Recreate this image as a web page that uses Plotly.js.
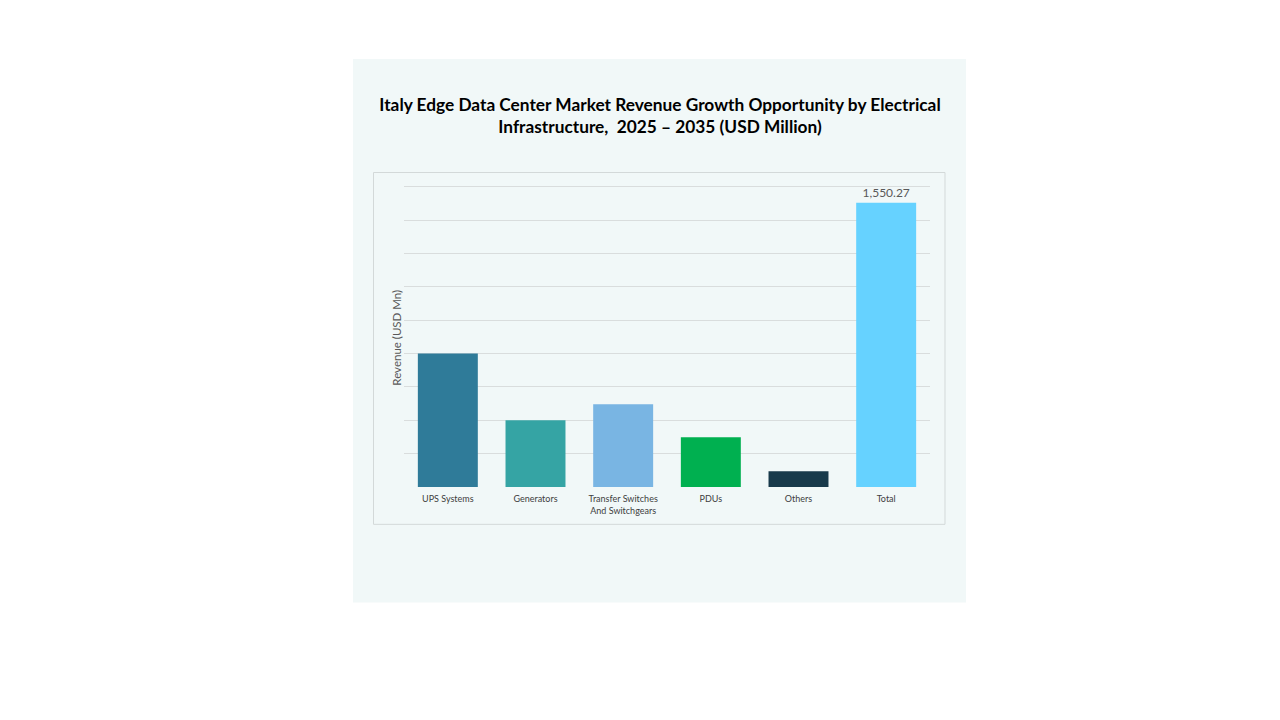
<!DOCTYPE html>
<html>
<head>
<meta charset="utf-8">
<script src="https://cdn.plot.ly/plotly-3.0.1.min.js"></script>
<style>
html,body{margin:0;padding:0;background:#ffffff;}
#chart{width:1280px;height:720px;}
</style>
</head>
<body>
<div id="chart"></div>
<script>
// ---- data ----
var categories = ["UPS Systems", "Generators", "Transfer Switches<br>And Switchgears", "PDUs", "Others", "Total"];
var revenue = [728, 364, 451, 271, 86, 1550.27];
var barColors = ["#2F7B99", "#35A4A4", "#79B5E3", "#00B050", "#183A4B", "#66D2FF"];
var labels = ["", "", "", "", "", "1,550.27"];
var chartTitle = "Italy Edge Data Center Market Revenue Growth Opportunity by Electrical<br>Infrastructure,  2025 \u2013 2035 (USD Million)";
var yTitle = "Revenue (USD Mn)";

// ---- layout geometry (pixels) ----
var W = 1280, H = 720;
var plotL = 404, plotR = 930, plotT = 180, plotB = 486.7;
var gridTop = 186.7, totalTop = 202.7;
var k = 1550.27 / (plotB - totalTop);          // value per pixel
var nGrid = 9;
var gridStep = k * (plotB - gridTop) / nGrid;
var rangeTop = k * (plotB - plotT);
var tickVals = [];
for (var i = 0; i <= nGrid; i++) tickVals.push(gridStep * i);

function px(x) { return (x - plotL) / (plotR - plotL); }
function py(y) { return (plotB - y) / (plotB - plotT); }

var trace = {
  type: "bar",
  x: categories,
  y: revenue,
  marker: {color: barColors},
  text: labels,
  textposition: "outside",
  cliponaxis: false,
  textfont: {family: "Lato, 'Noto Sans', sans-serif", size: 12, color: "#595959"},
  hoverinfo: "x+y"
};

var layout = {
  width: W, height: H,
  paper_bgcolor: "#ffffff",
  plot_bgcolor: "rgba(0,0,0,0)",
  margin: {l: plotL, r: W - plotR, t: plotT, b: H - plotB, pad: 0},
  showlegend: false,
  bargap: 0.316,
  title: {
    text: chartTitle,
    font: {family: "Lato, 'Noto Sans', sans-serif", size: 17.3, color: "#000000", weight: "bold"},
    x: (660 - plotL) / (plotR - plotL), xref: "paper", xanchor: "center",
    y: 1 - 111 / H, yanchor: "middle"
  },
  xaxis: {
    tickfont: {family: "Lato, 'Noto Sans', sans-serif", size: 9, color: "#404040"},
    showgrid: false, zeroline: false, showline: false,
    ticks: "outside", ticklen: 3, tickcolor: "rgba(0,0,0,0)"
  },
  yaxis: {
    range: [0, rangeTop],
    tickvals: tickVals,
    showticklabels: false,
    showgrid: true, gridcolor: "#d9dddd", gridwidth: 1,
    zeroline: false, showline: false, ticks: ""
  },
  shapes: [
    {type: "rect", xref: "paper", yref: "paper", layer: "below",
     x0: px(353), x1: px(966), y0: py(602), y1: py(59),
     fillcolor: "#f1f8f8", line: {width: 0}},
    {type: "rect", xref: "paper", yref: "paper", layer: "below",
     x0: px(373.5), x1: px(945), y0: py(524), y1: py(172.5),
     fillcolor: "rgba(0,0,0,0)", line: {color: "#d3d9d9", width: 1}}
  ],
  annotations: [
    {text: yTitle, xref: "paper", yref: "paper", x: px(397), y: py(337.5),
     showarrow: false, textangle: -90, xanchor: "center", yanchor: "middle",
     font: {family: "Lato, 'Noto Sans', sans-serif", size: 11.5, color: "#595959"}}
  ]
};

Plotly.newPlot("chart", [trace], layout, {displayModeBar: false, staticPlot: true});
</script>
</body>
</html>
